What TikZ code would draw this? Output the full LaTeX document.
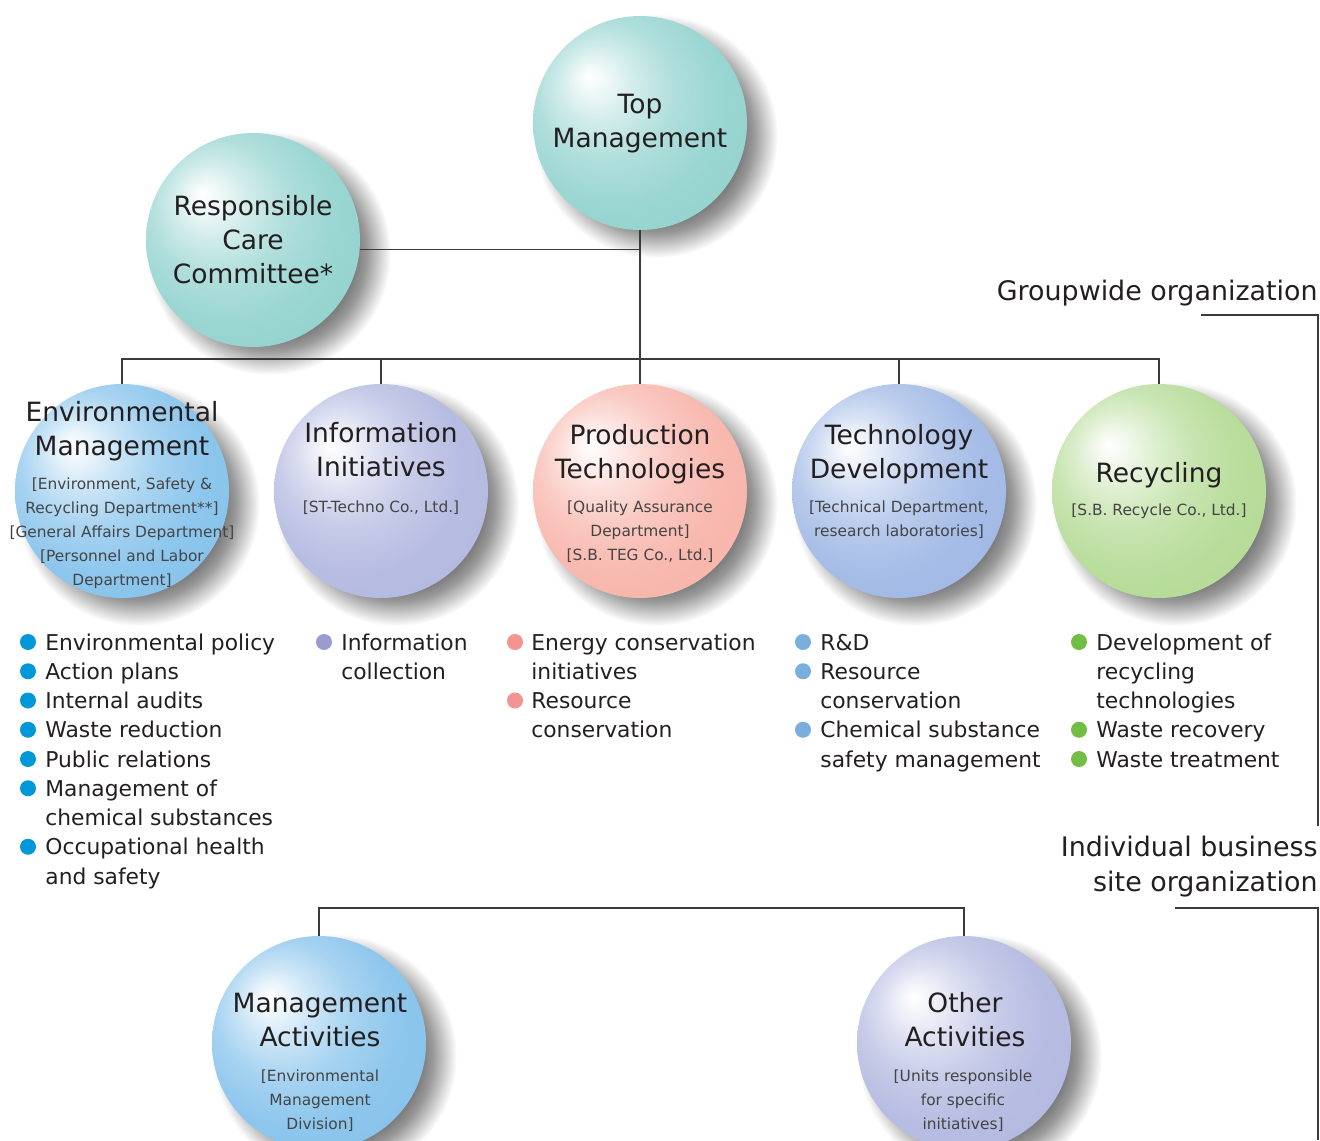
\documentclass[tikz,border=0pt]{standalone}
\usepackage{fontspec}
\setmainfont{DejaVu Sans}
\usetikzlibrary{positioning}
\usetikzlibrary{calc}

\definecolor{TextGray}{HTML}{231F20}
\definecolor{SubGray}{HTML}{444444}
\definecolor{LineGray}{HTML}{3A3A3A}
\definecolor{TealSph}{RGB}{150,212,208}
\definecolor{BlueSph}{RGB}{137,196,236}
\definecolor{LilacSph}{RGB}{180,186,225}
\definecolor{PinkSph}{RGB}{248,182,172}
\definecolor{SkySph}{RGB}{162,186,230}
\definecolor{GreenSph}{RGB}{182,220,152}
\definecolor{EnvDot}{RGB}{0,152,216}
\definecolor{InfoDot}{RGB}{154,156,208}
\definecolor{ProdDot}{RGB}{242,148,146}
\definecolor{TechDot}{RGB}{122,174,221}
\definecolor{RecyDot}{RGB}{114,190,68}

\colorlet{spherecol}{TealSph}
\pgfdeclareradialshading[spherecol]{sphere}{\pgfpoint{-12bp}{11bp}}{%
  color(0bp)=(white);
  color(3bp)=(spherecol!14!white);
  color(9bp)=(spherecol!45!white);
  color(16bp)=(spherecol!75!white);
  color(25bp)=(spherecol!96!white);
  color(31bp)=(spherecol);
  color(50bp)=(spherecol)}
\pgfdeclareradialshading{sphshadow}{\pgfpointorigin}{%
  color(0bp)=(black!55);
  color(16bp)=(black!55);
  color(18bp)=(black!50);
  color(20bp)=(black!40);
  color(22bp)=(black!24);
  color(24bp)=(black!8);
  color(25bp)=(white);
  color(50bp)=(white)}

\pgfdeclarelayer{background}
\pgfsetlayers{background,main}

\tikzset{
  Sphere/.style={circle, minimum size=107pt, inner sep=0pt, outer sep=0pt,
    /utils/exec={\colorlet{spherecol}{#1}}, shade, shading=sphere},
  SphShadow/.style={shade, shading=sphshadow},
  SphTitle/.style={font=\fontsize{13.25}{17}\selectfont, text=TextGray, align=center, inner sep=0pt},
  SphSub/.style={font=\fontsize{7.7}{12}\selectfont, text=SubGray, align=center, inner sep=0pt},
  ItemText/.style={font=\fontsize{10.9}{14.6}\selectfont, text=TextGray, anchor=base west, inner sep=0pt},
  Dot/.style={circle, fill=#1, minimum size=8pt, inner sep=0pt},
  HeadText/.style={font=\fontsize{13.45}{17.5}\selectfont, text=TextGray, align=right, inner sep=0pt},
  OrgLine/.style={draw=LineGray, line width=0.75pt},
}

\begin{document}
\begin{tikzpicture}[x=0.5pt, y=-0.5pt]
\useasboundingbox (0,0) rectangle (1320,1140);

% spheres
\node[Sphere=TealSph] (tm) at (640,123) {};
\node[Sphere=TealSph] (rcc) at (253,240) {};
\node[Sphere=BlueSph] (envm) at (122,491) {};
\node[Sphere=LilacSph] (info) at (381,491) {};
\node[Sphere=PinkSph] (prod) at (640,491) {};
\node[Sphere=SkySph] (tech) at (899,491) {};
\node[Sphere=GreenSph] (recy) at (1159,491) {};
\node[Sphere=BlueSph] (mact) at (319,1043) {};
\node[Sphere=LilacSph] (oact) at (964,1043) {};

\begin{pgfonlayer}{background}
\foreach \s in {tm,rcc,envm,info,prod,tech,recy,mact,oact}
  \shade[SphShadow] ([shift={(16,13)}]\s.center) circle (61pt);
\end{pgfonlayer}

% sphere texts
\node[SphTitle] (tm-t) at (640,124) {Top\\Management};
\node[SphTitle] (rcc-t) at (253,240) {Responsible\\Care\\Committee*};
\node[SphTitle] (envm-t) at (122,431) {Environmental\\Management};
\node[SphSub] (envm-s) at (122,533) {[Environment, Safety \&\\Recycling Department**]\\{[General Affairs Department]}\\{[Personnel and Labor}\\Department]};
\node[SphTitle] (info-t) at (381,450) {Information\\Initiatives};
\node[SphSub] (info-s) at (381,508) {[ST-Techno Co., Ltd.]};
\node[SphTitle] (prod-t) at (640,454) {Production\\Technologies};
\node[SphSub] (prod-s) at (640,532) {[Quality Assurance\\Department]\\{[S.B. TEG Co., Ltd.]}};
\node[SphTitle] (tech-t) at (899,454) {Technology\\Development};
\node[SphSub] (tech-s) at (899,520) {[Technical Department,\\research laboratories]};
\node[SphTitle] (recy-t) at (1159,475) {Recycling};
\node[SphSub] (recy-s) at (1159,511) {[S.B. Recycle Co., Ltd.]};
\node[SphTitle] (mact-t) at (320,1020) {Management\\Activities};
\node[SphSub] (mact-s) at (320,1101) {[Environmental\\Management\\Division]};
\node[SphTitle] (oact-t) at (965,1020) {Other\\Activities};
\node[SphSub] (oact-s) at (963,1101) {[Units responsible\\for specific\\initiatives]};

% connectors
\coordinate (bus) at (640,359);
\coordinate (sitebus) at (640,908);
\draw[OrgLine] (rcc.-5) -- (rcc.-5 -| tm.south);
\draw[OrgLine] (tm.south) -- (prod.north);
\draw[OrgLine] (envm.north) -- (envm.north |- bus) -- (recy.north |- bus) -- (recy.north);
\draw[OrgLine] (info.north) -- (info.north |- bus);
\draw[OrgLine] (tech.north) -- (tech.north |- bus);
\draw[OrgLine] (mact.north) -- (mact.north |- sitebus) -- (oact.north |- sitebus) -- (oact.north);

% organization brackets
\node[HeadText, anchor=base east] (grp) at (1318,300) {Groupwide organization};
\node[HeadText, anchor=east] (site) at (1318,867) {Individual business\\site organization};
\coordinate (grpL) at (1201,315);
\coordinate (grpE) at (1318,826);
\coordinate (siteL) at (1175,908);
\coordinate (siteE) at (1318,1140);
\draw[OrgLine] (grpL) -| (grpE);
\draw[OrgLine] (siteL) -| (siteE);

% environmental management items
\node[ItemText] (env1) at (45,650) {Environmental policy};
\node[ItemText] (env2) at (45,679.25) {Action plans};
\node[ItemText] (env3) at (45,708.5) {Internal audits};
\node[ItemText] (env4) at (45,737.75) {Waste reduction};
\node[ItemText] (env5) at (45,767) {Public relations};
\node[ItemText] (env6) at (45,796.25) {Management of};
\node[ItemText] (env7) at (45,825.5) {chemical substances};
\node[ItemText] (env8) at (45,854.75) {Occupational health};
\node[ItemText] (env9) at (45,884) {and safety};
\node[Dot=EnvDot] (envd1) at (28,642) {};
\node[Dot=EnvDot] (envd2) at (28,671.25) {};
\node[Dot=EnvDot] (envd3) at (28,700.5) {};
\node[Dot=EnvDot] (envd4) at (28,729.75) {};
\node[Dot=EnvDot] (envd5) at (28,759) {};
\node[Dot=EnvDot] (envd6) at (28,788.25) {};
\node[Dot=EnvDot] (envd8) at (28,846.75) {};

% information initiatives items
\node[ItemText] (info1) at (341,650) {Information};
\node[ItemText] (info2) at (341,679.25) {collection};
\node[Dot=InfoDot] (infod1) at (324,642) {};

% production technologies items
\node[ItemText] (prod1) at (531,650) {Energy conservation};
\node[ItemText] (prod2) at (531,679.25) {initiatives};
\node[ItemText] (prod3) at (531,708.5) {Resource};
\node[ItemText] (prod4) at (531,737.75) {conservation};
\node[Dot=ProdDot] (prodd1) at (515,642) {};
\node[Dot=ProdDot] (prodd3) at (515,700.5) {};

% technology development items
\node[ItemText] (tech1) at (820,650) {R\&D};
\node[ItemText] (tech2) at (820,679.25) {Resource};
\node[ItemText] (tech3) at (820,708.5) {conservation};
\node[ItemText] (tech4) at (820,737.75) {Chemical substance};
\node[ItemText] (tech5) at (820,767) {safety management};
\node[Dot=TechDot] (techd1) at (803,642) {};
\node[Dot=TechDot] (techd2) at (803,671.25) {};
\node[Dot=TechDot] (techd4) at (803,729.75) {};

% recycling items
\node[ItemText] (recy1) at (1096,650) {Development of};
\node[ItemText] (recy2) at (1096,679.25) {recycling};
\node[ItemText] (recy3) at (1096,708.5) {technologies};
\node[ItemText] (recy4) at (1096,737.75) {Waste recovery};
\node[ItemText] (recy5) at (1096,767) {Waste treatment};
\node[Dot=RecyDot] (recyd1) at (1079,642) {};
\node[Dot=RecyDot] (recyd4) at (1079,729.75) {};
\node[Dot=RecyDot] (recyd5) at (1079,759) {};
\end{tikzpicture}
\end{document}
